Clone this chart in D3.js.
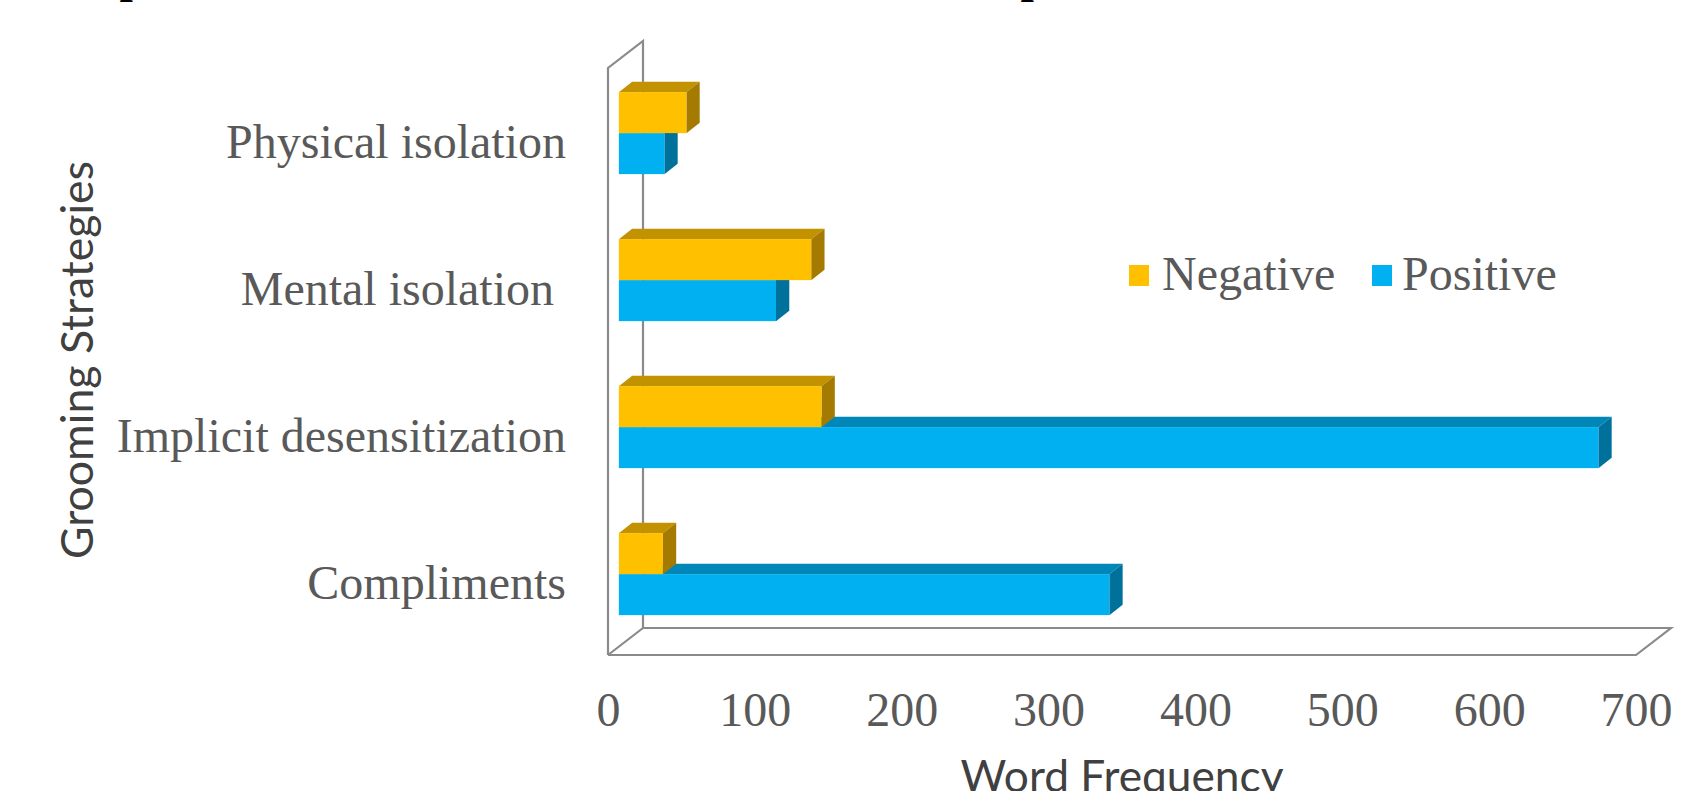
<!DOCTYPE html>
<html>
<head>
<meta charset="utf-8">
<script src="https://cdn.jsdelivr.net/npm/d3@7"></script>
<style>
  html, body { margin: 0; padding: 0; background: #ffffff; }
  svg { display: block; }
</style>
</head>
<body>
<svg id="chart" width="1687" height="791"></svg>
<script>
// ---- data ----
const categories = ["Physical isolation", "Mental isolation ", "Implicit desensitization", "Compliments"];
const negativeValues = [46, 131, 138, 30];
const positiveValues = [31, 107, 667, 334];
const seriesNames = ["Negative", "Positive"];
const xTicks = [0, 100, 200, 300, 400, 500, 600, 700];
const yTitle = "Grooming Strategies";
const xTitle = "Word Frequency";

// ---- style / layout ----
const colors = {
  Negative: { front: "#FFC000", top: "#C29200", side: "#A47B00" },
  Positive: { front: "#00B0F0", top: "#0087B8", side: "#00719A" }
};
const textGray = "#595959";
const wallGray = "#8a8a8a";
const serif = "'Liberation Serif', 'Times New Roman', serif";
const sans = "Lato, 'Open Sans', sans-serif";

const svg = d3.select("#chart");

const x = d3.scaleLinear().domain([0, 700]).range([608, 1636]);
const y = d3.scaleBand().domain(categories).range([68, 656]);
const depthX = 35, depthY = -27;   // full depth offset of the 3D box
const t0 = 0.31, t1 = 0.69;         // bar depth range
const barH = 41;

// ---- title fragments cut at the top edge ----
[119.5, 1020.5].forEach(px => {
  svg.append("text").attr("x", px).attr("y", -8.5)
    .attr("font-family", serif).attr("font-weight", "bold")
    .attr("font-size", 48).attr("fill", "#000").text("p");
});

// ---- walls / floor ----
const wall = svg.append("g").attr("fill", "none").attr("stroke", wallGray).attr("stroke-width", 2.2);
const fx0 = x(0), fx1 = x(700), fyTop = 68, fyBot = 655;
wall.append("path").attr("d", d3.line()([
  [fx0, fyBot], [fx0, fyTop], [fx0 + depthX, fyTop + depthY], [fx0 + depthX, fyBot + depthY]
]));
wall.append("path").attr("d", d3.line()([
  [fx0, fyBot], [fx1, fyBot], [fx1 + depthX, fyBot + depthY], [fx0 + depthX, fyBot + depthY], [fx0, fyBot]
]));

// ---- bars ----
const ox0 = depthX * t0, oy0 = depthY * t0, ox1 = depthX * t1, oy1 = depthY * t1;
const barsData = [];
categories.forEach((c, i) => {
  const cy = y(c) + y.bandwidth() / 2;
  // draw positive (lower) first, then negative on top
  barsData.push({ cat: c, series: "Positive", value: positiveValues[i], yt: cy, yb: cy + barH });
  barsData.push({ cat: c, series: "Negative", value: negativeValues[i], yt: cy - barH, yb: cy });
});

const barG = svg.append("g");
barsData.forEach(d => {
  const xl = x(0), xr = x(d.value);
  const col = colors[d.series];
  const g = barG.append("g");
  g.append("path").attr("fill", col.top).attr("d", d3.line()([
    [xl + ox0, d.yt + oy0], [xr + ox0, d.yt + oy0], [xr + ox1, d.yt + oy1], [xl + ox1, d.yt + oy1]
  ]) + "Z");
  g.append("path").attr("fill", col.side).attr("d", d3.line()([
    [xr + ox0, d.yt + oy0], [xr + ox1, d.yt + oy1], [xr + ox1, d.yb + oy1], [xr + ox0, d.yb + oy0]
  ]) + "Z");
  g.append("rect").attr("fill", col.front)
    .attr("x", xl + ox0).attr("y", d.yt + oy0)
    .attr("width", xr - xl).attr("height", d.yb - d.yt);
});

// ---- category labels ----
svg.append("g").selectAll("text").data(categories).join("text")
  .attr("x", 566).attr("y", d => y(d) + y.bandwidth() / 2)
  .attr("dy", "0.34em")
  .attr("text-anchor", "end")
  .attr("font-family", serif).attr("font-size", 48).attr("fill", textGray)
  .style("white-space", "pre")
  .text(d => d);

// ---- x tick labels ----
const xAxis = d3.axisBottom(x).tickValues(xTicks).tickSize(0).tickPadding(0).tickFormat(d3.format("d"));
const xg = svg.append("g").attr("transform", "translate(0,726)").call(xAxis);
xg.select(".domain").remove();
xg.selectAll("text").attr("dy", 0).attr("y", 0)
  .attr("font-family", serif).attr("font-size", 48).attr("fill", textGray);

// ---- legend ----
const legendItems = [
  { name: seriesNames[0], sx: 1129, tx: 1162 },
  { name: seriesNames[1], sx: 1372, tx: 1402 }
];
const lg = svg.append("g");
legendItems.forEach(it => {
  lg.append("rect").attr("x", it.sx).attr("y", 265).attr("width", 20).attr("height", 21)
    .attr("fill", colors[it.name].front);
  lg.append("text").attr("x", it.tx).attr("y", 290)
    .attr("font-family", serif).attr("font-size", 48).attr("fill", textGray).text(it.name);
});

// ---- axis titles ----
function fitText(sel, target) {
  const len = sel.node().getComputedTextLength();
  const fs = parseFloat(sel.attr("font-size"));
  if (len > 0) sel.attr("font-size", fs * target / len);
}
const yt = svg.append("text")
  .attr("transform", "translate(93,360) rotate(-90)")
  .attr("text-anchor", "middle")
  .attr("font-family", sans).attr("font-size", 46).attr("fill", "#404040")
  .text(yTitle);
fitText(yt, 398);

const xt = svg.append("text")
  .attr("x", 1122).attr("y", 792)
  .attr("text-anchor", "middle")
  .attr("font-family", sans).attr("font-size", 46).attr("fill", "#404040")
  .text(xTitle);
fitText(xt, 323);
</script>
</body>
</html>
